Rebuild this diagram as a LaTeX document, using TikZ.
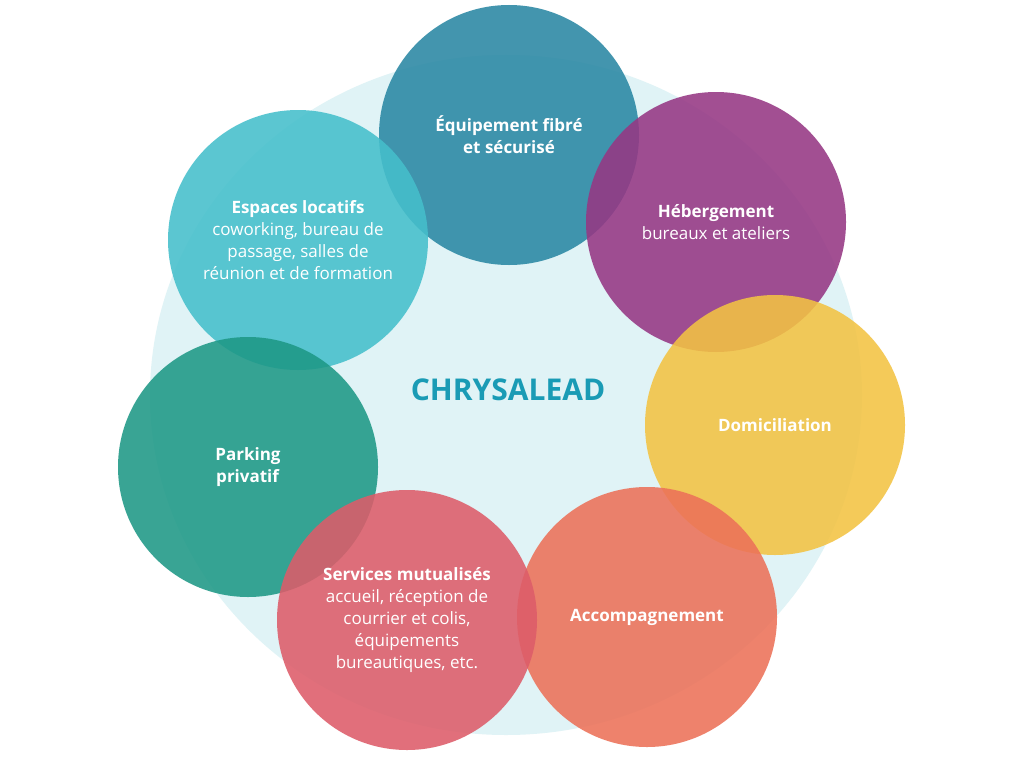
\documentclass[tikz,border=0pt]{standalone}
\usepackage{fontspec}
\setmainfont{Open Sans}
\usetikzlibrary{shapes.geometric}
\begin{document}
\begin{tikzpicture}[x=1pt,y=-1pt,
  bub/.style={circle,minimum size=260pt,inner sep=0pt,fill opacity=0.88,text opacity=1,text=white,align=center,font=\fontsize{17}{26}\selectfont}]
\useasboundingbox[fill=white] (0,0) rectangle (1024,768);
\node[ellipse,fill={rgb,255:red,224;green,243;blue,246},minimum width=712pt,minimum height=680pt,inner sep=0pt] (bg) at (506,395) {};
\node[bub,fill={rgb,255:red,41;green,135;blue,163}] (a) at (509,135) {\textbf{Équipement fibré}\\[-4pt]\textbf{et sécurisé}};
\node[bub,fill={rgb,255:red,69;green,191;blue,203}] (g) at (298,240) {\textbf{Espaces locatifs}\\[-4pt]coworking, bureau de\\[-4pt]passage, salles de\\[-4pt]réunion et de formation};
\node[bub,fill={rgb,255:red,150;green,55;blue,132}] (b) at (716,222) {\textbf{Hébergement}\\[-4pt]bureaux et ateliers};
\node[bub,fill={rgb,255:red,243;green,195;blue,67}] (c) at (775,425) {\textbf{Domiciliation}};
\node[bub,fill={rgb,255:red,30;green,152;blue,134}] (f) at (248,467) {\textbf{Parking}\\[-4pt]\textbf{privatif}};
\node[bub,fill={rgb,255:red,236;green,113;blue,88}] (d) at (647,617) {\textbf{Accompagnement}};
\node[bub,fill={rgb,255:red,221;green,92;blue,105}] (e) at (407,620) {\textbf{Services mutualisés}\\[-4pt]accueil, réception de\\[-4pt]courrier et colis,\\[-4pt]équipements\\[-4pt]bureautiques, etc.};
\node[text={rgb,255:red,26;green,155;blue,181},font=\fontsize{30}{36}\selectfont\bfseries] (t) at (508,390) {CHRYSALEAD};
\end{tikzpicture}
\end{document}
